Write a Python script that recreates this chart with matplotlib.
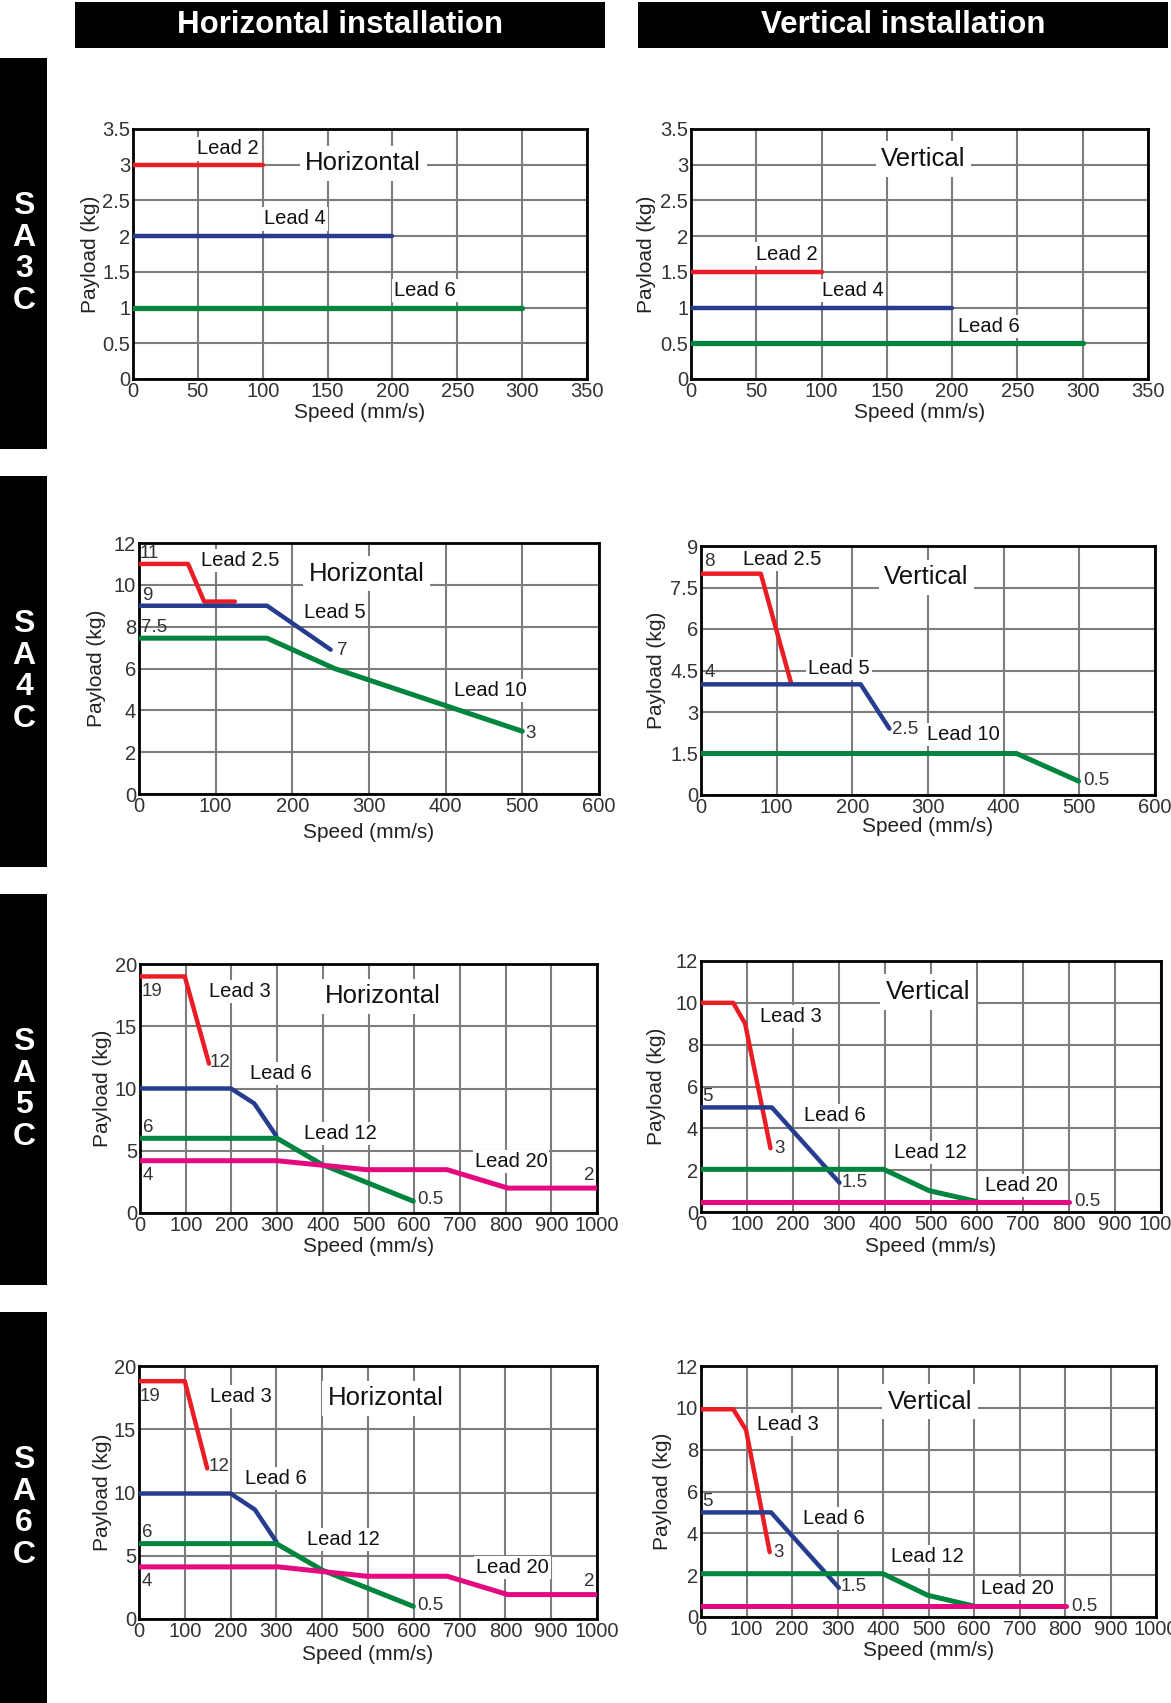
import matplotlib
matplotlib.use("Agg")
import matplotlib.pyplot as plt
from matplotlib.patches import Rectangle
from matplotlib.ticker import FuncFormatter

W, H = 1171, 1703
DPI = 100

# ------------------------------------------------------------------ data
ROW_NAMES = ["SA3C", "SA4C", "SA5C", "SA6C"]
COL_TITLES = ["Horizontal installation", "Vertical installation"]

# SA3C horizontal
SA3C_H_LEAD2_SPEED = [0, 100]
SA3C_H_LEAD2_LOAD = [3, 3]
SA3C_H_LEAD4_SPEED = [0, 200]
SA3C_H_LEAD4_LOAD = [2, 2]
SA3C_H_LEAD6_SPEED = [0, 300]
SA3C_H_LEAD6_LOAD = [1, 1]
# SA3C vertical
SA3C_V_LEAD2_SPEED = [0, 100]
SA3C_V_LEAD2_LOAD = [1.5, 1.5]
SA3C_V_LEAD4_SPEED = [0, 200]
SA3C_V_LEAD4_LOAD = [1, 1]
SA3C_V_LEAD6_SPEED = [0, 300]
SA3C_V_LEAD6_LOAD = [0.5, 0.5]
SA3C_SPEED_TICKS = [0, 50, 100, 150, 200, 250, 300, 350]
SA3C_LOAD_TICKS = [0, 0.5, 1, 1.5, 2, 2.5, 3, 3.5]

# SA4C horizontal
SA4C_H_LEAD25_SPEED = [0, 64, 85, 125]
SA4C_H_LEAD25_LOAD = [11, 11, 9.2, 9.2]
SA4C_H_LEAD5_SPEED = [0, 167, 250]
SA4C_H_LEAD5_LOAD = [9, 9, 6.9]
SA4C_H_LEAD10_SPEED = [0, 167, 255, 500]
SA4C_H_LEAD10_LOAD = [7.45, 7.45, 6, 3]
SA4C_H_SPEED_TICKS = [0, 100, 200, 300, 400, 500, 600]
SA4C_H_LOAD_TICKS = [0, 2, 4, 6, 8, 10, 12]
# SA4C vertical
SA4C_V_LEAD25_SPEED = [0, 79, 119]
SA4C_V_LEAD25_LOAD = [8, 8, 4.05]
SA4C_V_LEAD5_SPEED = [0, 211, 249]
SA4C_V_LEAD5_LOAD = [4, 4, 2.4]
SA4C_V_LEAD10_SPEED = [0, 417, 499]
SA4C_V_LEAD10_LOAD = [1.5, 1.5, 0.5]
SA4C_V_SPEED_TICKS = [0, 100, 200, 300, 400, 500, 600]
SA4C_V_LOAD_TICKS = [0, 1.5, 3, 4.5, 6, 7.5, 9]

# SA5C horizontal
SA5C_H_LEAD3_SPEED = [0, 98, 151]
SA5C_H_LEAD3_LOAD = [19, 19, 12]
SA5C_H_LEAD6_SPEED = [0, 199, 250, 298]
SA5C_H_LEAD6_LOAD = [10, 10, 8.8, 6.2]
SA5C_H_LEAD12_SPEED = [0, 300, 398, 598]
SA5C_H_LEAD12_LOAD = [6, 6, 3.9, 0.95]
SA5C_H_LEAD20_SPEED = [0, 300, 496, 672, 805, 1000]
SA5C_H_LEAD20_LOAD = [4.2, 4.2, 3.48, 3.48, 2.0, 2.0]
# SA5C vertical
SA5C_V_LEAD3_SPEED = [0, 70, 96, 151]
SA5C_V_LEAD3_LOAD = [10, 10, 9, 3.05]
SA5C_V_LEAD6_SPEED = [0, 154, 301]
SA5C_V_LEAD6_LOAD = [5, 5, 1.4]
SA5C_V_LEAD12_SPEED = [0, 397, 496, 600]
SA5C_V_LEAD12_LOAD = [2.04, 2.04, 1.02, 0.5]
SA5C_V_LEAD20_SPEED = [0, 801]
SA5C_V_LEAD20_LOAD = [0.5, 0.5]

# SA6C horizontal
SA6C_H_LEAD3_SPEED = [0, 100, 149]
SA6C_H_LEAD3_LOAD = [18.8, 18.8, 11.9]
SA6C_H_LEAD6_SPEED = [0, 200, 253, 300]
SA6C_H_LEAD6_LOAD = [9.92, 9.92, 8.65, 6.1]
SA6C_H_LEAD12_SPEED = [0, 300, 401, 599]
SA6C_H_LEAD12_LOAD = [5.96, 5.96, 3.85, 1.0]
SA6C_H_LEAD20_SPEED = [0, 304, 498, 673, 805, 1000]
SA6C_H_LEAD20_LOAD = [4.12, 4.12, 3.38, 3.38, 1.93, 1.93]
# SA6C vertical
SA6C_V_LEAD3_SPEED = [0, 71, 99, 151]
SA6C_V_LEAD3_LOAD = [9.93, 9.93, 8.94, 3.1]
SA6C_V_LEAD6_SPEED = [0, 154, 303]
SA6C_V_LEAD6_LOAD = [5, 5, 1.4]
SA6C_V_LEAD12_SPEED = [0, 400, 498, 602]
SA6C_V_LEAD12_LOAD = [2.07, 2.07, 1.04, 0.51]
SA6C_V_LEAD20_SPEED = [0, 803]
SA6C_V_LEAD20_LOAD = [0.51, 0.51]

SA56_SPEED_TICKS = [0, 100, 200, 300, 400, 500, 600, 700, 800, 900, 1000]
SA56_H_LOAD_TICKS = [0, 5, 10, 15, 20]
SA56_V_LOAD_TICKS = [0, 2, 4, 6, 8, 10, 12]

# ------------------------------------------------------------------ style
RED = "#ec1c24"
BLUE = "#263c8e"
GREEN = "#00843e"
MAGENTA = "#e5097f"
GRID = "#7d7d7d"
MAIN_FONT = ["Liberation Sans", "DejaVu Sans"]
NARROW_FONT = ["Liberation Sans Narrow", "Liberation Sans", "DejaVu Sans"]

plt.rcParams["font.family"] = MAIN_FONT

fig = plt.figure(figsize=(W / DPI, H / DPI), dpi=DPI)
fig.patch.set_facecolor("white")


def px_rect(l, t, r, b):
    return [l / W, 1 - b / H, (r - l) / W, (b - t) / H]


# header bars
for (l, r), title in zip([(75, 605), (638, 1168)], COL_TITLES):
    fig.patches.append(Rectangle((l / W, 1 - 48 / H), (r - l) / W, 46 / H,
                                 transform=fig.transFigure, facecolor="black",
                                 edgecolor="none"))
    fig.text((l + r) / 2 / W, 1 - 25 / H, title, color="white",
             fontsize=22.5, fontweight="bold", ha="center", va="center")

# side bars
for (t, b), name in zip([(58, 449), (476, 867), (894, 1285), (1312, 1703)], ROW_NAMES):
    fig.patches.append(Rectangle((0, 1 - b / H), 47 / W, (b - t) / H,
                                 transform=fig.transFigure, facecolor="black",
                                 edgecolor="none"))
    c = (t + b) / 2
    for i, ch in enumerate(name):
        y = c + (i - 1.5) * 31.5
        fig.text(24 / W, 1 - y / H, ch, color="white", fontsize=23,
                 fontweight="bold", ha="center", va="center")

fmt = FuncFormatter(lambda v, p: f"{v:g}")


def panel(box, xlim, ylim, xticks, yticks, series, leads, values, title,
          ylab_x, xlab_y):
    l, t, r, b = box
    ax = fig.add_axes(px_rect(l, t, r, b))
    ax.set_xlim(*xlim)
    ax.set_ylim(*ylim)
    ax.set_xticks(xticks)
    ax.set_yticks(yticks)
    ax.xaxis.set_major_formatter(fmt)
    ax.yaxis.set_major_formatter(fmt)
    ax.grid(True, color=GRID, lw=1.5)
    ax.set_axisbelow(True)
    for s in ax.spines.values():
        s.set_color("black")
        s.set_linewidth(2.0)
    ax.tick_params(length=0, pad=2, labelsize=14.5, labelcolor="#333333")
    for lab in ax.get_xticklabels() + ax.get_yticklabels():
        lab.set_family(NARROW_FONT)
    ax.set_xlabel("Speed (mm/s)", fontsize=15, color="#222222")
    ax.set_ylabel("Payload (kg)", fontsize=15, color="#222222")
    ax.xaxis.label.set_va("center")
    ax.yaxis.label.set_va("center")
    ax.xaxis.set_label_coords(0.5, (b - xlab_y) / (b - t))
    ax.yaxis.set_label_coords((ylab_x - l) / (r - l), 0.5)

    for xs, ys, col, lw in series:
        ax.plot(xs, ys, color=col, lw=lw, solid_capstyle="round",
                solid_joinstyle="round", zorder=4)
    for x, y, s in leads:
        ax.text(x, y, s, fontsize=14.5, ha="center", va="center", zorder=3,
                color="#111111",
                bbox=dict(facecolor="white", edgecolor="none", pad=1.5))
    for x, y, s in values:
        ax.text(x, y, s, fontsize=13.5, ha="center", va="center", zorder=3,
                color="#333333", family=NARROW_FONT)
    tx, ty, ts = title
    ax.text(tx, ty, ts, fontsize=18.5, ha="center", va="center", zorder=3,
            color="#111111",
            bbox=dict(facecolor="white", edgecolor="none", pad=4))
    return ax


# SA3C horizontal
panel((133, 129, 587, 379), (0, 350), (0, 3.5), SA3C_SPEED_TICKS, SA3C_LOAD_TICKS,
      [(SA3C_H_LEAD2_SPEED, SA3C_H_LEAD2_LOAD, RED, 3.2),
       (SA3C_H_LEAD4_SPEED, SA3C_H_LEAD4_LOAD, BLUE, 3.2),
       (SA3C_H_LEAD6_SPEED, SA3C_H_LEAD6_LOAD, GREEN, 3.8)],
      [(73, 3.22, "Lead 2"), (125, 2.24, "Lead 4"), (225, 1.245, "Lead 6")],
      [], (177.5, 3.02, "Horizontal"), 90, 413)

# SA3C vertical
panel((691, 129, 1148, 379), (0, 350), (0, 3.5), SA3C_SPEED_TICKS, SA3C_LOAD_TICKS,
      [(SA3C_V_LEAD2_SPEED, SA3C_V_LEAD2_LOAD, RED, 3.2),
       (SA3C_V_LEAD4_SPEED, SA3C_V_LEAD4_LOAD, BLUE, 3.2),
       (SA3C_V_LEAD6_SPEED, SA3C_V_LEAD6_LOAD, GREEN, 3.8)],
      [(73, 1.75, "Lead 2"), (124, 1.245, "Lead 4"), (228, 0.74, "Lead 6")],
      [], (178, 3.08, "Vertical"), 646, 412)

# SA4C horizontal
panel((139, 543, 599, 794), (0, 600), (0, 12), SA4C_H_SPEED_TICKS, SA4C_H_LOAD_TICKS,
      [(SA4C_H_LEAD25_SPEED, SA4C_H_LEAD25_LOAD, RED, 3.2),
       (SA4C_H_LEAD5_SPEED, SA4C_H_LEAD5_LOAD, BLUE, 3.2),
       (SA4C_H_LEAD10_SPEED, SA4C_H_LEAD10_LOAD, GREEN, 3.6)],
      [(132, 11.17, "Lead 2.5"), (256, 8.68, "Lead 5"), (458, 4.95, "Lead 10")],
      [(14, 11.52, "11"), (11, 9.48, "9"), (20, 7.98, "7.5"),
       (265, 6.86, "7"), (511, 2.9, "3")],
      (297, 10.53, "Horizontal"), 97, 832)

# SA4C vertical
panel((701, 546, 1155, 795), (0, 600), (0, 9), SA4C_V_SPEED_TICKS, SA4C_V_LOAD_TICKS,
      [(SA4C_V_LEAD25_SPEED, SA4C_V_LEAD25_LOAD, RED, 3.2),
       (SA4C_V_LEAD5_SPEED, SA4C_V_LEAD5_LOAD, BLUE, 3.2),
       (SA4C_V_LEAD10_SPEED, SA4C_V_LEAD10_LOAD, GREEN, 3.6)],
      [(107, 8.5, "Lead 2.5"), (182, 4.58, "Lead 5"), (347, 2.18, "Lead 10")],
      [(11.6, 8.44, "8"), (11.6, 4.43, "4"), (270, 2.36, "2.5"), (523, 0.53, "0.5")],
      (298, 7.87, "Vertical"), 657, 827)

# SA5C horizontal
panel((140, 964, 597, 1213), (0, 1000), (0, 20), SA56_SPEED_TICKS, SA56_H_LOAD_TICKS,
      [(SA5C_H_LEAD3_SPEED, SA5C_H_LEAD3_LOAD, RED, 3.2),
       (SA5C_H_LEAD6_SPEED, SA5C_H_LEAD6_LOAD, BLUE, 3.2),
       (SA5C_H_LEAD12_SPEED, SA5C_H_LEAD12_LOAD, GREEN, 3.6),
       (SA5C_H_LEAD20_SPEED, SA5C_H_LEAD20_LOAD, MAGENTA, 3.6)],
      [(219, 17.78, "Lead 3"), (309, 11.18, "Lead 6"), (438, 6.42, "Lead 12"),
       (812, 4.14, "Lead 20")],
      [(26, 17.78, "19"), (176, 12.09, "12"), (18, 6.9, "6"), (18, 3.0, "4"),
       (984, 3.0, "2"), (635, 1.07, "0.5")],
      (531, 17.4, "Horizontal"), 102, 1247)

# SA5C vertical
panel((701, 961, 1161, 1212), (0, 1000), (0, 12), SA56_SPEED_TICKS, SA56_V_LOAD_TICKS,
      [(SA5C_V_LEAD3_SPEED, SA5C_V_LEAD3_LOAD, RED, 3.2),
       (SA5C_V_LEAD6_SPEED, SA5C_V_LEAD6_LOAD, BLUE, 3.2),
       (SA5C_V_LEAD12_SPEED, SA5C_V_LEAD12_LOAD, GREEN, 3.6),
       (SA5C_V_LEAD20_SPEED, SA5C_V_LEAD20_LOAD, MAGENTA, 3.6)],
      [(195, 9.33, "Lead 3"), (290, 4.63, "Lead 6"), (499, 2.83, "Lead 12"),
       (697, 1.29, "Lead 20")],
      [(13, 5.54, "5"), (170, 3.04, "3"), (334, 1.4, "1.5"), (841, 0.49, "0.5")],
      (494, 10.52, "Vertical"), 657, 1246)

# SA6C horizontal
panel((139, 1366, 597, 1619), (0, 1000), (0, 20), SA56_SPEED_TICKS, SA56_H_LOAD_TICKS,
      [(SA6C_H_LEAD3_SPEED, SA6C_H_LEAD3_LOAD, RED, 3.2),
       (SA6C_H_LEAD6_SPEED, SA6C_H_LEAD6_LOAD, BLUE, 3.2),
       (SA6C_H_LEAD12_SPEED, SA6C_H_LEAD12_LOAD, GREEN, 3.6),
       (SA6C_H_LEAD20_SPEED, SA6C_H_LEAD20_LOAD, MAGENTA, 3.6)],
      [(223, 17.57, "Lead 3"), (298, 11.1, "Lead 6"), (447, 6.3, "Lead 12"),
       (816, 4.1, "Lead 20")],
      [(23, 17.57, "19"), (175, 12.03, "12"), (18, 6.8, "6"), (16, 3.0, "4"),
       (984, 3.0, "2"), (637, 1.08, "0.5")],
      (538, 17.44, "Horizontal"), 102, 1654)

# SA6C vertical
panel((701, 1366, 1156, 1617), (0, 1000), (0, 12), SA56_SPEED_TICKS, SA56_V_LOAD_TICKS,
      [(SA6C_V_LEAD3_SPEED, SA6C_V_LEAD3_LOAD, RED, 3.2),
       (SA6C_V_LEAD6_SPEED, SA6C_V_LEAD6_LOAD, BLUE, 3.2),
       (SA6C_V_LEAD12_SPEED, SA6C_V_LEAD12_LOAD, GREEN, 3.6),
       (SA6C_V_LEAD20_SPEED, SA6C_V_LEAD20_LOAD, MAGENTA, 3.6)],
      [(192, 9.22, "Lead 3"), (293, 4.7, "Lead 6"), (497, 2.87, "Lead 12"),
       (696, 1.36, "Lead 20")],
      [(14, 5.5, "5"), (171, 3.1, "3"), (335, 1.44, "1.5"), (842, 0.51, "0.5")],
      (504, 10.29, "Vertical"), 662, 1651)

fig.savefig("out.png", dpi=DPI, facecolor="white")
